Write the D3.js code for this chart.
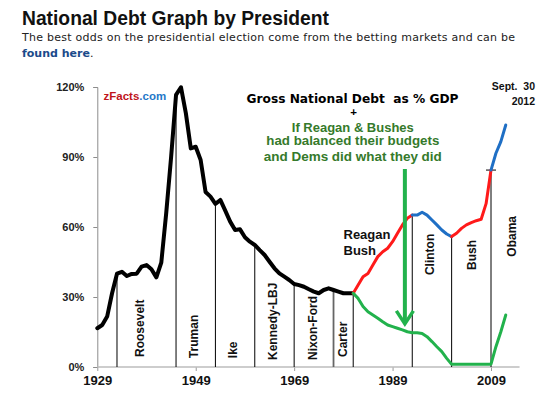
<!DOCTYPE html>
<html>
<head>
<meta charset="utf-8">
<script src="https://cdn.jsdelivr.net/npm/d3@7"></script>
<style>
  body { margin: 0; background: #fff; }
  svg { display: block; }
  text { font-family: "Liberation Sans", Arial, sans-serif; }
</style>
</head>
<body>
<script>
// gross federal debt as % of GDP, one value per year from 1929
const startYear = 1929;
const debtPct = [
  16.6, 18, 21.6, 31.6, 40, 40.8, 39, 39.9, 40, 43,          // 1929-1938
  43.7, 41.9, 38.4, 44.7, 65.9, 90, 116.6, 119.9, 108.7, 93.7, // 1939-1948
  94.4, 88.7, 75, 73, 69.9, 71.6, 67, 62.3, 58.7, 59,          // 1949-1958
  55.6, 53.7, 52.3, 50.1, 48, 45.1, 42.3, 40.1, 38.7, 37.3,    // 1959-1968
  35.6, 35.1, 34.4, 33.3, 32.3, 31.6, 33, 33.7, 33, 32.3,      // 1969-1978
  31.6, 31.6, 31.6, 35.1, 38.7, 40.1, 43.7, 47.3, 49.4, 50.9,  // 1979-1988
  53.7, 57.3, 60.9, 63.7, 65.1, 65.1, 66.3, 65.1, 63, 60.9,    // 1989-1998
  58.7, 57, 55.9, 57.3, 59.4, 60.9, 61.9, 62.7, 63.3, 70,      // 1999-2008
  84.4, 91.6, 96.6, 103.7                                      // 2009-2012
];

// "if Reagan & Bushes had balanced their budgets" scenario, from 1981
const whatIfStart = 1981;
const whatIfPct = [
  31.6, 29.4, 25.9, 23.7, 22.3, 20.9, 19.4, 18, 17.3, 16.6,   // 1981-1990
  15.9, 15.1, 14.7, 14.7, 14.4, 13, 10.9, 8.7, 6.6, 3.7,      // 1991-2000
  1.2, 1.2, 1.2, 1.2, 1.2, 1.2, 1.2, 1.2, 1.2, 8.7,           // 2001-2010
  15.1, 22.3                                                  // 2011-2012
];

// colour segments of the actual debt line: party in office
const segFrom = [1929, 1981, 1993, 2001, 2009];
const segTo   = [1981, 1993, 2001, 2009, 2012];
const segKind = ['base', 'rep', 'dem', 'rep', 'dem'];

const presidents = ['Roosevelt', 'Truman', 'Ike', 'Kennedy-LBJ', 'Nixon-Ford', 'Carter', 'Reagan Bush', 'Clinton', 'Bush', 'Obama'];
const termStart  = [1933, 1945, 1953, 1961, 1969, 1977, 1981, 1993, 2001, 2009];

const xTicks = [1929, 1949, 1969, 1989, 2009];
const yTicks = [0, 30, 60, 90, 120];

const W = 552, H = 397;
const colors = { base: '#000', rep: '#ff1a1a', dem: '#1f6fc5', green: '#22b24c', greenText: '#357a2b' };

const svg = d3.select('body').append('svg').attr('width', W).attr('height', H);
svg.append('rect').attr('width', W).attr('height', H).attr('fill', '#fff');

// page heading
svg.append('text').attr('x', 22).attr('y', 25)
  .attr('textLength', 307).attr('lengthAdjust', 'spacingAndGlyphs')
  .style('font-size', '19.5px').style('font-weight', 'bold').style('fill', '#111')
  .text('National Debt Graph by President');
svg.append('text').attr('x', 22).attr('y', 41)
  .attr('textLength', 493).attr('lengthAdjust', 'spacing')
  .style('font-family', '"DejaVu Sans", Verdana, sans-serif').style('font-size', '11px').style('fill', '#222')
  .text('The best odds on the presidential election come from the betting markets and can be');
let sub2 = svg.append('text').attr('x', 22).attr('y', 57)
  .style('font-family', '"DejaVu Sans", Verdana, sans-serif').style('font-size', '11px');
sub2.append('tspan').style('font-weight', 'bold').style('fill', '#1b4a8a').text('found here');
sub2.append('tspan').style('fill', '#222').text('.');

const x = d3.scaleLinear().domain([1929, 2009]).range([97.3, 491]);
const y = d3.scaleLinear().domain([0, 120]).range([367, 87]);

const debt = debtPct.map((v, i) => ({ year: startYear + i, v: v }));
const whatIf = whatIfPct.map((v, i) => ({ year: whatIfStart + i, v: v }));
const debtAt = yr => debt.find(d => d.year === yr).v;

// axes
let yAxis = svg.append('g').attr('transform', 'translate(' + x(1929) + ',0)')
  .call(d3.axisLeft(y).tickValues(yTicks).tickFormat(d => d + '%').tickSize(4).tickPadding(9));
yAxis.select('.domain').attr('stroke', '#8c8c8c');
yAxis.selectAll('.tick line').attr('stroke', '#8c8c8c');
yAxis.selectAll('text').style('font-size', '11px').style('font-weight', 'bold').style('fill', '#222')
  .style('font-family', '"Liberation Sans", Arial, sans-serif');

let xAxis = svg.append('g').attr('transform', 'translate(0,' + y(0) + ')')
  .call(d3.axisBottom(x).tickValues(xTicks).tickFormat(d3.format('d')).tickSize(4).tickPadding(5));
xAxis.select('.domain').remove();
xAxis.selectAll('.tick line').attr('stroke', '#9a9a9a');
xAxis.selectAll('text').style('font-size', '13px').style('font-weight', 'bold').style('fill', '#111')
  .style('font-family', '"Liberation Sans", Arial, sans-serif');
svg.append('line').attr('x1', x(1929)).attr('x2', x(2014.8)).attr('y1', y(0)).attr('y2', y(0))
  .attr('stroke', '#bdbdbd').attr('stroke-width', 1.5);

// term boundaries: thin lines from the axis up to the curve
svg.selectAll('line.term').data(termStart).enter().append('line').attr('class', 'term')
  .attr('x1', d => x(d)).attr('x2', d => x(d))
  .attr('y1', y(0)).attr('y2', d => y(debtAt(d)))
  .attr('stroke', d => d === 1977 ? '#666' : '#000')
  .attr('stroke-width', d => d === 1977 ? 1.8 : 1);
svg.append('line').attr('x1', x(2009) - 5).attr('x2', x(2009) + 5)
  .attr('y1', y(debtAt(2009))).attr('y2', y(debtAt(2009))).attr('stroke', '#000');

// president names, rotated, reading upward
const labelAt = {
  'Roosevelt': [1937.6, 4.3], 'Truman': [1948.5, 3.8], 'Ike': [1956.6, 3.8],
  'Kennedy-LBJ': [1964.7, 3], 'Nixon-Ford': [1972.8, 3], 'Carter': [1978.8, 4.3],
  'Clinton': [1996.6, 39.4], 'Bush': [2005.1, 41.6], 'Obama': [2013.1, 47.3]
};
presidents.filter(p => labelAt[p]).forEach(p => {
  let pos = labelAt[p];
  svg.append('text')
    .attr('transform', 'translate(' + x(pos[0]) + ',' + y(pos[1]) + ') rotate(-90)')
    .attr('dy', '0.36em')
    .style('font-size', '12px').style('font-weight', 'bold').style('fill', '#111')
    .text(p);
});
let rb = svg.append('text').style('font-size', '13px').style('font-weight', 'bold').style('fill', '#111');
presidents[6].split(' ').forEach((w, i) => {
  rb.append('tspan').attr('x', 343.5).attr('y', 238.5 + i * 16.5).text(w);
});

// debt lines
const line = d3.line().x(d => x(d.year)).y(d => y(d.v)).curve(d3.curveLinear);
segKind.forEach((k, i) => {
  svg.append('path')
    .datum(debt.filter(d => d.year >= segFrom[i] && d.year <= segTo[i]))
    .attr('d', line).attr('fill', 'none')
    .attr('stroke', colors[k]).attr('stroke-width', k === 'base' ? 4 : 3)
    .attr('stroke-linejoin', 'round').attr('stroke-linecap', 'round');
});
svg.append('path').datum(whatIf).attr('d', line).attr('fill', 'none')
  .attr('stroke', colors.green).attr('stroke-width', 3)
  .attr('stroke-linejoin', 'round').attr('stroke-linecap', 'round');

// green arrow pointing down at the what-if line
const ax = x(1991.5), aTop = y(84.9), aTip = y(18.5);
svg.append('line').attr('x1', ax).attr('x2', ax).attr('y1', aTop).attr('y2', aTip - 2)
  .attr('stroke', colors.green).attr('stroke-width', 4);
svg.append('path')
  .attr('d', 'M' + (ax - 8.5) + ',' + (aTip - 13) + 'L' + ax + ',' + aTip + 'L' + (ax + 8.5) + ',' + (aTip - 13))
  .attr('fill', 'none').attr('stroke', colors.green).attr('stroke-width', 3.5)
  .attr('stroke-linejoin', 'miter');

// annotations
let zf = svg.append('text').attr('x', 103.5).attr('y', 100)
  .style('font-size', '11.5px').style('font-weight', 'bold');
zf.append('tspan').style('fill', '#c0141b').text('zFacts');
zf.append('tspan').style('fill', '#1f78c8').text('.com');

svg.append('text').attr('x', 352.5).attr('y', 102.5).attr('text-anchor', 'middle')
  .attr('textLength', 212).attr('lengthAdjust', 'spacingAndGlyphs')
  .style('font-family', '"DejaVu Sans", Verdana, sans-serif').style('white-space', 'pre')
  .style('font-size', '12.5px').style('font-weight', 'bold').style('fill', '#000')
  .text('Gross National Debt  as % GDP');
svg.append('text').attr('x', 353.5).attr('y', 116).attr('text-anchor', 'middle')
  .style('font-size', '11.5px').style('font-weight', 'bold').style('fill', '#000').text('+');
[['If Reagan & Bushes', 131.5, 122], ['had balanced their budgets', 145, 173], ['and Dems did what they did', 161, 178]]
  .forEach(t => {
    svg.append('text').attr('x', 352.8).attr('y', t[1]).attr('text-anchor', 'middle')
      .attr('textLength', t[2]).attr('lengthAdjust', 'spacingAndGlyphs')
      .style('font-family', '"Liberation Sans", Arial, sans-serif')
      .style('font-size', '12.5px').style('font-weight', 'bold').style('fill', colors.greenText)
      .text(t[0]);
  });

svg.append('text').attr('x', 535).attr('y', 90).attr('text-anchor', 'end').style('white-space', 'pre')
  .style('font-size', '10.5px').style('font-weight', 'bold').style('fill', '#111').text('Sept.  30');
svg.append('text').attr('x', 535).attr('y', 104.5).attr('text-anchor', 'end')
  .style('font-size', '10.5px').style('font-weight', 'bold').style('fill', '#111').text('2012');
</script>
</body>
</html>
